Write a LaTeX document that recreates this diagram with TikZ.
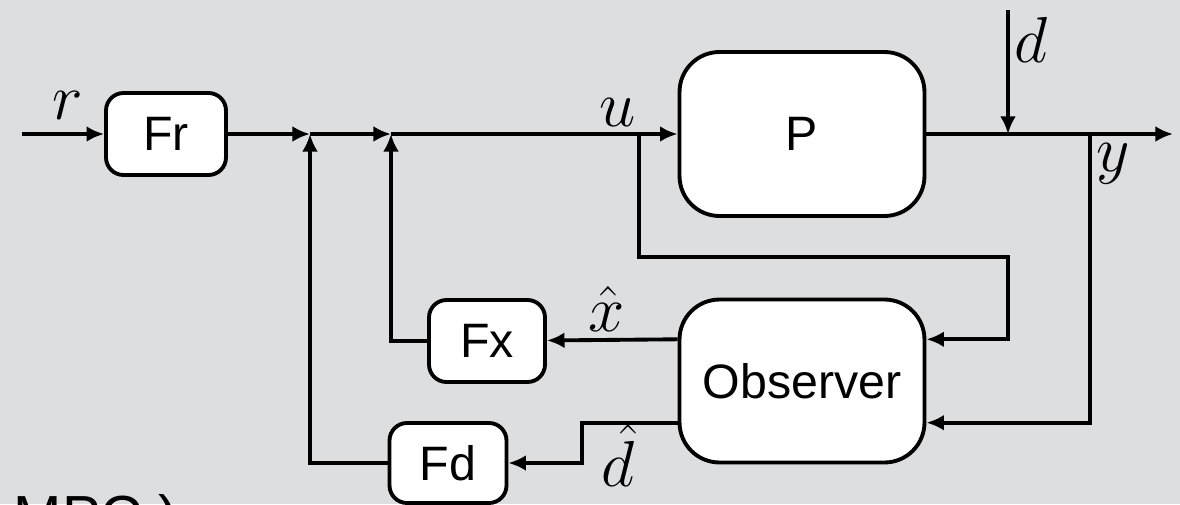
\documentclass[tikz,border=0pt]{standalone}
\usepackage{fix-cm}
\usepackage{amsmath}
\usepackage{fontspec}
\setsansfont{Liberation Sans}
\usetikzlibrary{arrows.meta,positioning,calc}
\definecolor{slidegray}{RGB}{221,222,224}

\begin{document}
\begin{tikzpicture}[
  x=0.02cm, y=-0.02cm,
  >={Latex[length=10pt,width=9pt]},
  line width=2.2pt,
  every node/.style={font=\fontsize{27.5}{32}\selectfont\sffamily},
  blockbox/.style={draw, fill=white, rounded corners=0.35cm, minimum width=2.4cm, minimum height=1.64cm, align=center},
  plantbox/.style={blockbox, rounded corners=0.8cm, minimum width=4.9cm, minimum height=3.28cm},
  sig/.style={inner sep=0pt, font=\fontsize{37}{42}\selectfont}
]
\useasboundingbox (0,0) rectangle (1180,504);
\fill[slidegray] (0,0) rectangle (1180,504);
\clip (0,0) rectangle (1180,504);

% blocks
\node[blockbox] (fr) at (166,134) {Fr};
\node[plantbox] (plant) at (802,134) {P};
\node[plantbox, minimum height=3.26cm] (obs) at (802,381) {Observer};
\node[blockbox, minimum width=2.32cm] (fx) at (487,341) {Fx};
\node[blockbox, minimum width=2.34cm, minimum height=1.6cm] (fd) at (448,463) {Fd};

% signal points
\coordinate (rin) at (22,134);
\coordinate (sum1) at (310,134);
\coordinate (sum2) at (391,134);
\coordinate (ubr) at (639,134);
\coordinate (dtop) at (1008,10);
\coordinate (dsum) at (1008,134);
\coordinate (ybr) at (1090,134);
\coordinate (yout) at (1173,134);
\coordinate (ucorner) at (1008,257);
\coordinate (dbend) at (582,463);
\coordinate (obsin1) at ($(obs.north east)!.25!(obs.south east)$);
\coordinate (obsin2) at ($(obs.north east)!.75!(obs.south east)$);
\coordinate (obsout1) at ($(obs.north west)!.25!(obs.south west)$);
\coordinate (obsout2) at ($(obs.north west)!.75!(obs.south west)$);

% forward path
\draw[->] (rin) -- (fr);
\draw[->] (fr) -- (sum1);
\draw[->] (sum1) -- (sum2);
\draw[->] (sum2) -- (plant);
\draw[->] (plant) -- (yout);
\draw[->] (dtop) -- (dsum);

% observer loop
\draw[->] (ubr) |- (ucorner) |- (obsin1);
\draw[->] (ybr) |- (obsin2);
\draw[->] (obsout1) -- (fx);
\draw[->] (fx) -| (sum2);
\draw[->] (obsout2) -| (dbend) -- (fd);
\draw[->] (fd) -| (sum1);

% labels
\node[sig] (rlabel) at (68,106) {$r$};
\node[sig] (ulabel) at (618,113) {$u$};
\node[sig] (dlabel) at (1031,40) {$d$};
\node[sig] (ylabel) at (1113,164) {$y$};
\node[sig] (xhatlabel) at (607,309) {$\hat{x}$};
\node[sig] (dhatlabel) at (618,455) {$\hat{d}$};

\node[anchor=base west, inner sep=0pt, font=\fontsize{33}{40}\selectfont\sffamily] (mpc) at (12,536) {MPC )};
\end{tikzpicture}
\end{document}
